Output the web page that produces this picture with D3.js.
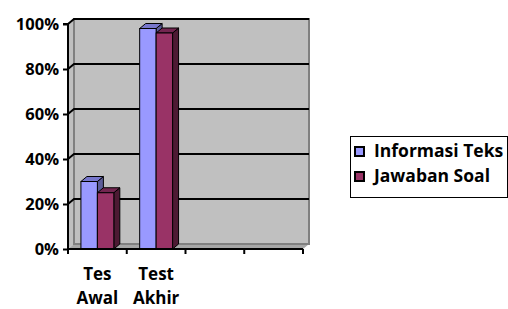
<!DOCTYPE html>
<html>
<head>
<meta charset="utf-8">
<script src="https://cdn.jsdelivr.net/npm/d3@7"></script>
<style>
  body { margin: 0; background: #fff; }
  svg { display: block; font-family: "Open Sans", sans-serif; font-weight: 700; }
</style>
</head>
<body>
<div id="chart"></div>
<script>
const categories = ["Tes Awal", "Test Akhir", "", ""];
const seriesNames = ["Informasi Teks", "Jawaban Soal"];
const informasiTeks = [0.30, 0.98, null, null];
const jawabanSoal = [0.25, 0.96, null, null];
const yTicks = [0, 0.2, 0.4, 0.6, 0.8, 1];

const width = 508;
const height = 309;
const dx = 6, dy = -5; // 3d depth
const colors = {
  front: ["#9999FF", "#993366"],
  top: ["#7777CC", "#732650"],
  side: ["#5C5C99", "#4D1A33"]
};

const svg = d3
  .select("#chart")
  .append("svg")
  .attr("width", width)
  .attr("height", height);

const x0 = d3
  .scaleBand()
  .domain(d3.range(categories.length))
  .range([68, 303])
  .paddingInner(0.44)
  .paddingOuter(0.22);

const x1 = d3
  .scaleBand()
  .domain(d3.range(seriesNames.length))
  .range([0, x0.bandwidth()]);

const y = d3.scaleLinear().domain([0, 1]).range([249, 24]);

const [xl, xr] = x0.range();
const y0 = y(0), yTop = y(1);

// walls
svg.append("polygon")
  .attr("points", [[xl, y0], [xl, yTop], [xl + dx, yTop + dy], [xl + dx, y0 + dy]].join(" "))
  .attr("fill", "#C0C0C0");
svg.append("polygon")
  .attr("points", [[xl, y0], [xr, y0], [xr + dx, y0 + dy], [xl + dx, y0 + dy]].join(" "))
  .attr("fill", "#A6A6A6");
svg.append("rect")
  .attr("x", xl + dx)
  .attr("y", yTop + dy)
  .attr("width", xr - xl)
  .attr("height", y0 - yTop)
  .attr("fill", "#C0C0C0")
  .attr("stroke", "#808080")
  .attr("stroke-width", 2);

// gridlines
const grid = svg.append("g");
yTicks.slice(1).forEach((t) => {
  grid.append("path")
    .attr("d", `M${xl},${y(t)}L${xl + dx},${y(t) + dy}H${xr + dx}`)
    .attr("fill", "none")
    .attr("stroke", "#000")
    .attr("stroke-width", 2);
});

// bars
const series = [informasiTeks, jawabanSoal];
const bars = svg.append("g").attr("stroke", "#000").attr("stroke-width", 1);
categories.forEach((c, i) => {
  series.forEach((vals, s) => {
    const v = vals[i];
    if (v == null) return;
    const bx = x0(i) + x1(s);
    const bw = x1.bandwidth();
    const by = y(v);
    // side
    bars.append("polygon")
      .attr("points", [[bx + bw, y0], [bx + bw, by], [bx + bw + dx, by + dy], [bx + bw + dx, y0 + dy]].join(" "))
      .attr("fill", colors.side[s]);
    // top
    bars.append("polygon")
      .attr("points", [[bx, by], [bx + bw, by], [bx + bw + dx, by + dy], [bx + dx, by + dy]].join(" "))
      .attr("fill", colors.top[s]);
    // front
    bars.append("rect")
      .attr("x", bx)
      .attr("y", by)
      .attr("width", bw)
      .attr("height", y0 - by)
      .attr("fill", colors.front[s]);
  });
});

// y axis
const yAxis = svg.append("g")
  .attr("transform", `translate(${xl},0)`)
  .call(d3.axisLeft(y).tickValues(yTicks).tickFormat(d3.format(".0%")).tickSize(5).tickPadding(4));
yAxis.select(".domain").attr("stroke-width", 2).attr("d", `M-5,${yTop}H0V${y0}`);
yAxis.selectAll(".tick line").attr("stroke-width", 2);
yAxis.selectAll(".tick text")
  .attr("font-family", "Open Sans")
  .attr("font-weight", 700)
  .attr("font-size", 16.5)
  .attr("fill", "#000");

// x axis
const xTicks = d3.range(categories.length + 1).map((i) => xl + i * x0.step());
const xAxis = svg.append("g");
xAxis.append("path")
  .attr("d", `M${xl},${y0}H${xr}`)
  .attr("stroke", "#000")
  .attr("stroke-width", 2);
xAxis.selectAll("line.tick")
  .data(xTicks)
  .join("line")
  .attr("class", "tick")
  .attr("x1", (d) => d)
  .attr("x2", (d) => d)
  .attr("y1", y0)
  .attr("y2", y0 + 5)
  .attr("stroke", "#000")
  .attr("stroke-width", 2);

xAxis.selectAll("text")
  .data(categories)
  .join("text")
  .attr("text-anchor", "middle")
  .attr("font-size", 17)
  .each(function (d, i) {
    const cx = x0(i) + x0.bandwidth() / 2;
    d.split(" ").forEach((w, k) => {
      d3.select(this)
        .append("tspan")
        .attr("x", cx)
        .attr("y", 280 + k * 24)
        .text(w);
    });
  });

// legend
const legend = svg.append("g").attr("transform", "translate(350,136)");
legend.append("rect")
  .attr("x", 0.5)
  .attr("y", 0.5)
  .attr("width", 157)
  .attr("height", 61)
  .attr("fill", "#fff")
  .attr("stroke", "#000");
seriesNames.forEach((name, s) => {
  const g = legend.append("g").attr("transform", `translate(5,${11 + s * 25})`);
  g.append("rect")
    .attr("width", 9)
    .attr("height", 9)
    .attr("fill", colors.front[s])
    .attr("stroke", "#000")
    .attr("stroke-width", 2);
  g.append("text")
    .attr("x", 19)
    .attr("y", 10)
    .attr("font-size", 17.5)
    .text(name);
});
</script>
</body>
</html>
